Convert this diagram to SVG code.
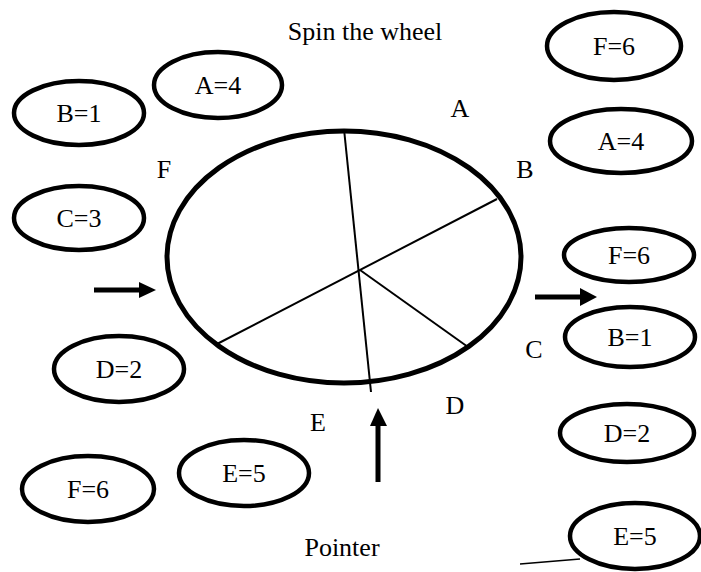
<svg xmlns="http://www.w3.org/2000/svg" width="701" height="572" viewBox="0 0 701 572">
<style>
.t{font-family:"Liberation Serif","Times New Roman",serif;font-size:26px;fill:#000;text-anchor:middle}
.n{fill:#fff;stroke:#000;stroke-width:4.5}
.sp{stroke:#000;stroke-width:2;fill:none}
.ar{stroke:#000;stroke-width:5;fill:none}
.hd{fill:#000}
</style>
<rect width="701" height="572" fill="#fff"/>
<g id="titles">
<text class="t" x="365" y="40">Spin the wheel</text>
<text class="t" x="342" y="556">Pointer</text>
</g>
<g id="wheel">
<ellipse cx="344" cy="257" rx="177" ry="126" fill="#fff" stroke="#000" stroke-width="5"/>
<line class="sp" x1="344" y1="129" x2="371" y2="392"/>
<line class="sp" x1="497" y1="199" x2="217" y2="344"/>
<line class="sp" x1="360" y1="270" x2="468" y2="347"/>
</g>
<g id="sector-labels">
<text class="t" x="460" y="117">A</text>
<text class="t" x="525" y="178">B</text>
<text class="t" x="534" y="358">C</text>
<text class="t" x="455" y="414">D</text>
<text class="t" x="318" y="431">E</text>
<text class="t" x="164" y="178">F</text>
</g>
<g id="connectors">
<line class="ar" x1="94" y1="290" x2="141" y2="290"/>
<polygon class="hd" points="139,282 156,290 139,298"/>
<line class="ar" x1="535" y1="297" x2="582" y2="297"/>
<polygon class="hd" points="580,288 597,297 580,306"/>
<line class="ar" x1="378" y1="482" x2="378" y2="424"/>
<polygon class="hd" points="370,426 378,408 387,426"/>
<line x1="520" y1="564" x2="580" y2="559" stroke="#000" stroke-width="1.5"/>
</g>
<g id="n-b1-left"><ellipse class="n" cx="79" cy="113" rx="65" ry="32"/><text class="t" x="79" y="122">B=1</text></g>
<g id="n-a4-left"><ellipse class="n" cx="218" cy="85" rx="64" ry="33"/><text class="t" x="218" y="94">A=4</text></g>
<g id="n-c3-left"><ellipse class="n" cx="79" cy="218" rx="65" ry="32"/><text class="t" x="79" y="227">C=3</text></g>
<g id="n-d2-left"><ellipse class="n" cx="119" cy="369" rx="65" ry="33"/><text class="t" x="119" y="378">D=2</text></g>
<g id="n-f6-bottom"><ellipse class="n" cx="88" cy="489" rx="66" ry="33"/><text class="t" x="88" y="498">F=6</text></g>
<g id="n-e5-bottom"><ellipse class="n" cx="244" cy="473" rx="65" ry="33"/><text class="t" x="244" y="482">E=5</text></g>
<g id="n-f6-top"><ellipse class="n" cx="614" cy="46" rx="67" ry="34"/><text class="t" x="614" y="55">F=6</text></g>
<g id="n-a4-right"><ellipse class="n" cx="621" cy="141" rx="71" ry="32"/><text class="t" x="621" y="150">A=4</text></g>
<g id="n-f6-right"><ellipse class="n" cx="629" cy="255" rx="65" ry="27"/><text class="t" x="629" y="264">F=6</text></g>
<g id="n-b1-right"><ellipse class="n" cx="630" cy="337" rx="65" ry="30"/><text class="t" x="630" y="346">B=1</text></g>
<g id="n-d2-right"><ellipse class="n" cx="627" cy="433" rx="67" ry="29"/><text class="t" x="627" y="442">D=2</text></g>
<g id="n-e5-right"><ellipse class="n" cx="635" cy="536" rx="65" ry="33"/><text class="t" x="635" y="545">E=5</text></g>
</svg>
